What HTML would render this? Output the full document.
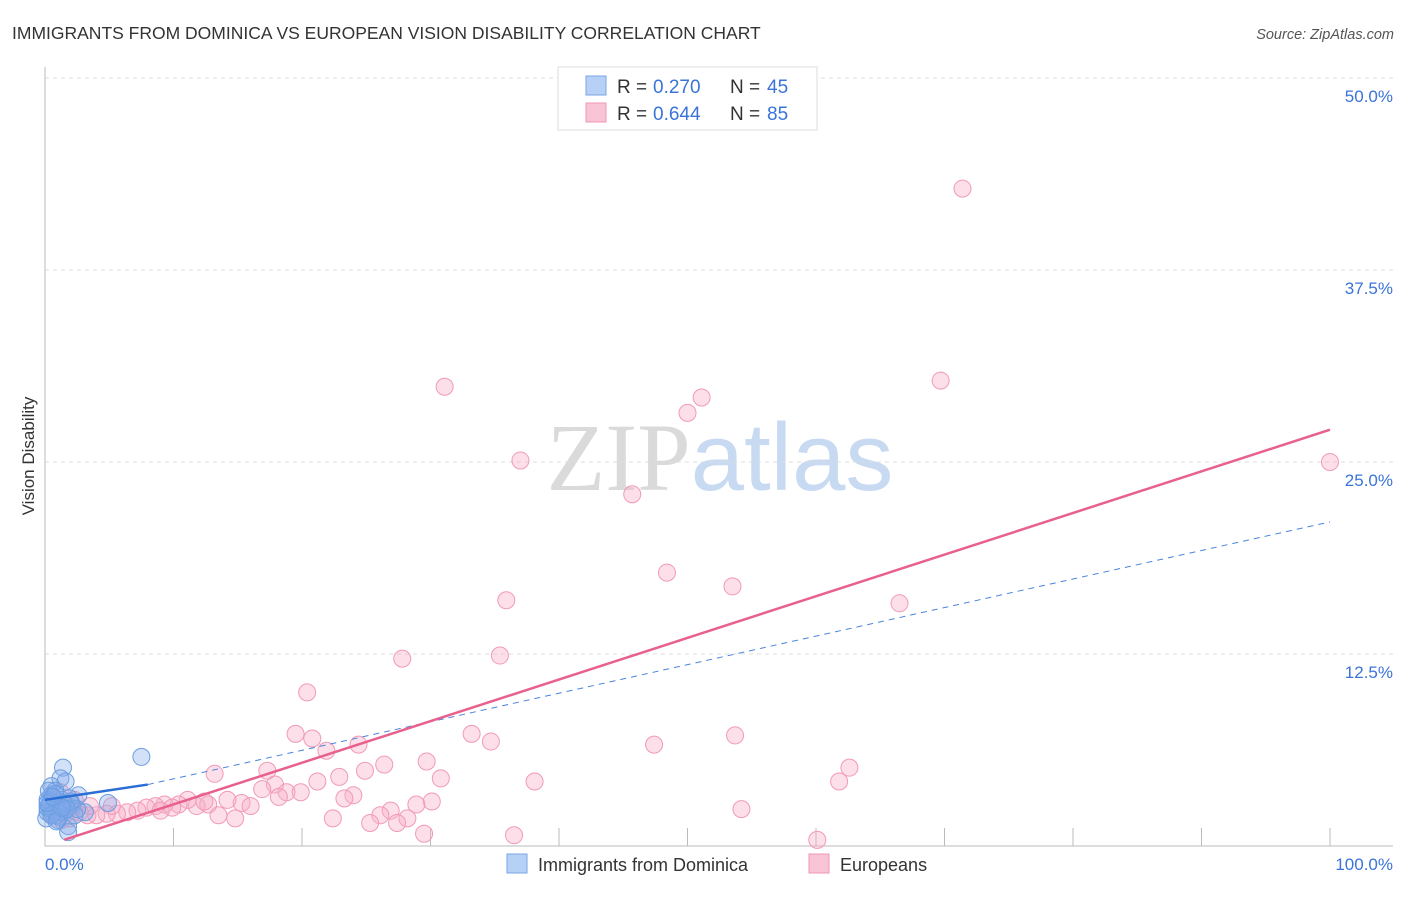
<!DOCTYPE html>
<html><head><meta charset="utf-8"><style>
body{margin:0;background:#fff;font-family:"Liberation Sans",sans-serif}
svg text{font-family:"Liberation Sans",sans-serif}
</style></head><body>
<svg id="chart" width="1406" height="892" xmlns="http://www.w3.org/2000/svg">
<text x="12" y="39" font-size="17.5" fill="#333">IMMIGRANTS FROM DOMINICA VS EUROPEAN VISION DISABILITY CORRELATION CHART</text>
<text x="1394" y="39" font-size="14.5" fill="#555" text-anchor="end" font-style="italic">Source: ZipAtlas.com</text>
<text x="720" y="490" font-size="96" text-anchor="middle"><tspan fill="#dadada" font-family="Liberation Serif">ZIP</tspan><tspan fill="#c8daf2">atlas</tspan></text>
<text transform="translate(34,456) rotate(-90)" font-size="17" fill="#333" text-anchor="middle">Vision Disability</text>
<g id="grid"></g><g id="axes"></g><g id="marks"></g>
<g>
<rect x="558" y="67" width="259" height="63" fill="#fff" stroke="#ddd"/>
<rect x="586" y="76" width="20" height="19" fill="#b7d0f5" stroke="#7aa6e6"/>
<rect x="586" y="103" width="20" height="19" fill="#f9c5d6" stroke="#f095b5"/>
<text x="617" y="93" font-size="19" fill="#333">R =</text>
<text x="653" y="93" font-size="19" fill="#3a74d8">0.270</text>
<text x="730" y="93" font-size="19" fill="#333">N =</text>
<text x="767" y="93" font-size="19" fill="#3a74d8">45</text>
<text x="617" y="120" font-size="19" fill="#333">R =</text>
<text x="653" y="120" font-size="19" fill="#3a74d8">0.644</text>
<text x="730" y="120" font-size="19" fill="#333">N =</text>
<text x="767" y="120" font-size="19" fill="#3a74d8">85</text>
</g>
<g>
<rect x="507" y="854" width="20" height="19" fill="#b7d0f5" stroke="#7aa6e6"/>
<text x="538" y="871" font-size="18" fill="#333">Immigrants from Dominica</text>
<rect x="809" y="854" width="20" height="19" fill="#f9c5d6" stroke="#f095b5"/>
<text x="840" y="871" font-size="18" fill="#333">Europeans</text>
</g>
</svg>
<script>
const yTicks=[12.5,25,37.5,50];
const yTickLabels=["12.5%","25.0%","37.5%","50.0%"];
const xTicks=[10,20,30,40,50,60,70,80,90,100];
const eurX=[71.4,31.1,69.7,51.1,50.0,37.0,100,45.7,48.4,53.5,35.9,66.5,27.8,35.4,20.4,19.5,20.8,33.2,34.7,47.4,53.7,24.4,21.9,29.7,62.6,26.4,13.2,17.3,24.9,30.8,22.9,21.2,38.1,61.8,17.9,16.9,18.8,19.9,18.2,24.0,23.3,30.1,28.9,26.9,54.2,28.2,26.1,22.4,25.3,27.4,29.5,36.5,60.1,13.5,14.8,15.3,16.0,14.2,12.7,11.8,11.1,10.4,9.3,8.6,7.9,7.2,6.4,5.6,4.8,4.0,3.3,2.7,2.1,1.6,1.2,0.8,0.5,2.3,9.0,9.9,12.4,1.3,3.5,5.2,1.2,1.9];
const eurY=[42.8,29.9,30.3,29.2,28.2,25.1,25.0,22.9,17.8,16.9,16.0,15.8,12.2,12.4,10.0,7.3,7.0,7.3,6.8,6.6,7.2,6.6,6.2,5.5,5.1,5.3,4.7,4.9,4.9,4.4,4.5,4.2,4.2,4.2,4.0,3.7,3.5,3.5,3.2,3.3,3.1,2.9,2.7,2.3,2.4,1.8,2.0,1.8,1.5,1.5,0.8,0.7,0.4,2.0,1.8,2.8,2.6,3.0,2.7,2.6,3.0,2.7,2.7,2.6,2.5,2.3,2.2,2.1,2.1,2.0,2.0,2.2,2.5,2.1,2.6,3.0,2.0,3.0,2.3,2.5,2.9,1.7,2.6,2.6,3.5,1.8];
const domX=[7.5,1.4,1.2,1.6,0.5,0.8,2.6,4.9,0.2,0.4,0.6,0.9,1.0,1.8,1.8,1.3,0.2,2.1,3.1,2.3,0.5,0.9,0.1,1.5,0.7,0.3,1.9,1.2,1.6,0.2,0.4,1.0,2.5,0.6,1.1,0.3,1.4,0.8,2.0,0.5,1.7,0.9,0.2,1.3,0.6];
const domY=[5.8,5.1,4.4,4.2,3.9,3.6,3.3,2.8,3.0,2.7,2.3,2.0,1.7,1.3,0.9,3.0,2.2,2.7,2.2,2.0,3.3,2.7,1.8,2.3,3.1,3.6,3.1,2.2,2.7,2.5,2.9,2.5,2.4,2.1,1.9,2.6,2.8,3.4,2.9,2.0,2.4,1.6,2.8,2.5,3.2];
const eurTrend=[0,100,0.0,27.1];
const domTrend=[0,8,3.0,4.0,100,21.1];
const X=v=>45+v*12.85, Y=v=>846-v*15.36;
const NS="http://www.w3.org/2000/svg";
function mk(p,t,a){const e=document.createElementNS(NS,t);for(const k in a)e.setAttribute(k,a[k]);document.getElementById(p).appendChild(e);return e;}
yTicks.forEach((t,i)=>{
 const l=mk('grid','line',{x1:45,x2:1393,y1:Y(t),y2:Y(t),stroke:'#ddd','stroke-dasharray':'4,4'});
 
 
 const tx=mk('grid','text',{x:1393,y:Y(t)+24,'font-size':17,fill:'#3a74d8','text-anchor':'end'});tx.textContent=yTickLabels[i];
 
 
});
const ax=mk('axes','path',{d:'M45,67V846H1393',stroke:'#bbb',fill:'none'});


xTicks.forEach(t=>{const l=mk('axes','line',{x1:X(t),x2:X(t),y1:828,y2:846,stroke:'#bbb'});
 
 });
let t0=mk('axes','text',{x:45,y:870,'font-size':17,fill:'#3a74d8'});t0.textContent='0.0%';


let t1=mk('axes','text',{x:1393,y:870,'font-size':17,fill:'#3a74d8','text-anchor':'end'});t1.textContent='100.0%';


eurX.forEach((x,i)=>{const c=mk('marks','circle',{cx:X(x),cy:Y(eurY[i]),r:8.5,fill:'rgba(248,175,200,0.4)',stroke:'#f19ab8','stroke-width':1});
 
 });
domX.forEach((x,i)=>{const c=mk('marks','circle',{cx:X(x),cy:Y(domY[i]),r:8.5,fill:'rgba(130,170,235,0.35)',stroke:'#6a9ee0','stroke-width':1});
 
 });
let d=mk('marks','line',{x1:X(domTrend[1]),y1:Y(domTrend[3]),x2:X(domTrend[4]),y2:Y(domTrend[5]),stroke:'#4a84dc','stroke-width':1,'stroke-dasharray':'6,5'});


let ds=mk('marks','line',{x1:X(domTrend[0]),y1:Y(domTrend[2]),x2:X(domTrend[1]),y2:Y(domTrend[3]),stroke:'#2a6fd6','stroke-width':2.5});


let e=mk('marks','line',{x1:X(1.5),y1:Y(eurTrend[2]+1.5*(eurTrend[3]-eurTrend[2])/100),x2:X(eurTrend[1]),y2:Y(eurTrend[3]),stroke:'#e8608c','stroke-width':2.5});


</script>
</body></html>
